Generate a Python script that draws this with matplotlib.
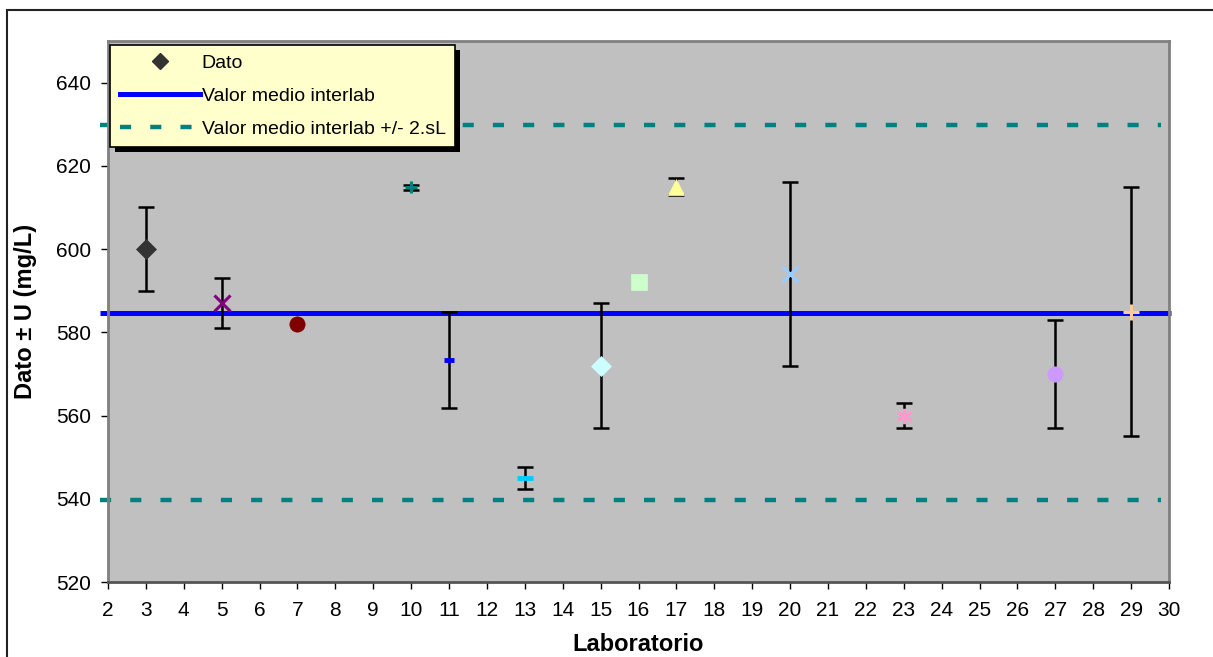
import matplotlib
matplotlib.use("Agg")
import matplotlib.pyplot as plt
from matplotlib.patches import Rectangle
from matplotlib.lines import Line2D
from matplotlib.transforms import IdentityTransform

plt.rcParams['font.family'] = ['Liberation Sans', 'DejaVu Sans']

labs = [3, 5, 7, 10, 11, 13, 15, 16, 17, 20, 23, 27, 29]
values = [600, 587, 582, 614.8, 573.4, 545, 572, 592, 615, 594, 560, 570, 585]
uncert = [10, 6, 0, 0.6, 11.6, 2.6, 15, 0, 2, 22, 3, 13, 30]
markers = ['D', 'x', 'o', '+', '_', '_', 'D', 's', '^', 'x', (6, 2, 0), 'o', '+']
colors = ['#333333', '#800080', '#800000', '#008080', '#0000FF', '#00CCFF',
          '#CCFFFF', '#CCFFCC', '#FFFF99', '#99CCFF', '#FF99CC', '#CC99FF', '#FFCC99']
msizes = [10, 11, 11, 9, 7, 11, 10, 11, 11, 12, 11, 11, 12]

mean_val = 584.7
two_sl = 45.0

xticks = list(range(2, 31))
yticks = [520, 540, 560, 580, 600, 620, 640]

fig = plt.figure(figsize=(12.13, 6.57), dpi=100)
W, H = 1213, 657
ax = fig.add_axes([108 / W, 1 - 582 / H, (1169 - 108) / W, (582 - 41) / H])
ax.set_facecolor('#C0C0C0')
ax.set_xlim(2, 30)
ax.set_ylim(520, 650)

# figure border
fig.patches.append(Rectangle((7 / W, -0.05), 1.1, 1 - 10 / H + 0.05, transform=fig.transFigure,
                             fill=False, edgecolor='#222222', linewidth=1.5))

ax.plot([1.8, 30.05], [mean_val, mean_val], color='#0000FF', lw=3.6, zorder=2, clip_on=False,
        solid_capstyle='butt')
for v in (mean_val + two_sl, mean_val - two_sl):
    ax.plot([1.8, 29.8], [v, v], color='#008080', lw=3.2, zorder=2, clip_on=False,
            linestyle=(0, (2.5, 4.3)), dash_capstyle='butt')

for x, y, u, m, c, s in zip(labs, values, uncert, markers, colors, msizes):
    if u > 0:
        ax.errorbar([x], [y], yerr=[u], fmt='none', ecolor='black', elinewidth=1.8,
                    capsize=6, capthick=1.8, zorder=3)
    lw = 2.2 if m in ('x', '+', '_', (6, 2, 0)) else 0
    if m == '_':
        lw = 3.5
    ax.plot([x], [y], linestyle='none', marker=m, color=c, markersize=s,
            markeredgewidth=lw if lw else 0.5, markeredgecolor=c, zorder=4)

ax.set_xticks(xticks)
ax.set_xticklabels([str(t) for t in xticks])
ax.set_yticks(yticks)
ax.tick_params(axis='both', direction='out', length=5, width=1, color='#000000',
               labelsize=15, pad=7)
ax.tick_params(axis='x', pad=9)
for side in ('top', 'right', 'left', 'bottom'):
    ax.spines[side].set_color('#808080')
    ax.spines[side].set_linewidth(2)
ax.spines['bottom'].set_color('#555555')
ax.set_xlabel('Laboratorio', fontsize=17, fontweight='bold', labelpad=9)
ax.set_ylabel('Dato ± U (mg/L)', fontsize=17, fontweight='bold', labelpad=14)

handles = [
    Line2D([], [], linestyle='none', marker='D', color='#333333', markersize=8),
    Line2D([], [], color='#0000FF', lw=3.6),
    Line2D([], [], color='#008080', lw=3.2, linestyle=(0, (2.5, 4.3))),
]
labels_leg = ['Dato', 'Valor medio interlab', 'Valor medio interlab +/- 2.sL']
leg = ax.legend(handles, labels_leg, loc='upper left', bbox_to_anchor=(0.002, 0.993),
                fontsize=14, frameon=True, fancybox=False, shadow=False,
                facecolor='#FFFFCC', edgecolor='black', framealpha=1, handlelength=4.1,
                borderaxespad=0.0, labelspacing=0.78, handletextpad=0.1, borderpad=0.5)
leg.get_frame().set_linewidth(1.2)
leg.set_zorder(10)

fig.canvas.draw()
bb = leg.get_window_extent()
shadow = Rectangle((bb.x0 + 5, bb.y0 - 5), bb.width, bb.height, transform=IdentityTransform(),
                   facecolor='black', edgecolor='none', zorder=9, clip_on=False)
ax.add_patch(shadow)

fig.savefig('out.png', dpi=100)
